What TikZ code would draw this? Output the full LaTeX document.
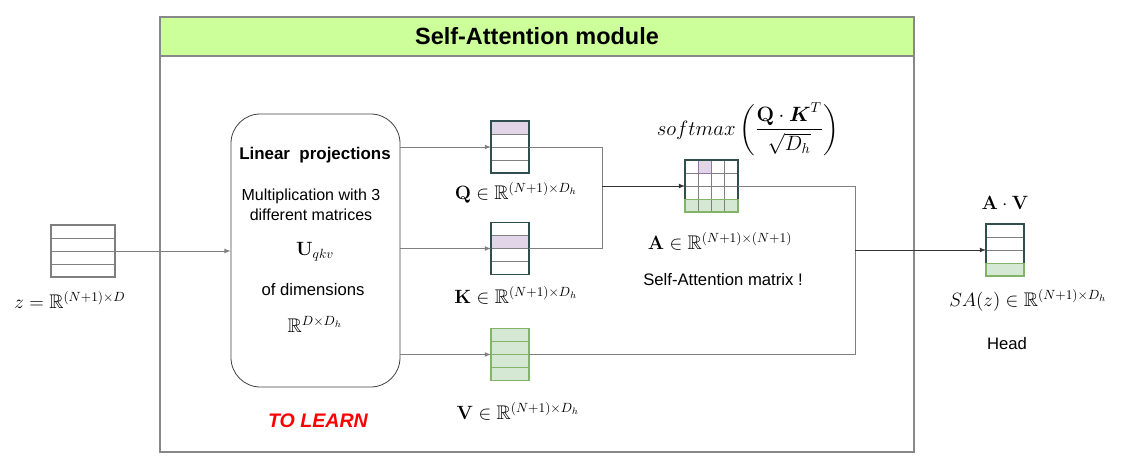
\documentclass[tikz,border=0pt]{standalone}
\usepackage{amssymb, amsmath}
\usepackage[no-math]{fontspec}
\setmainfont{Liberation Sans}
\usetikzlibrary{calc, arrows}
\definecolor{linegray}{HTML}{7F7F7F}
\definecolor{framegray}{HTML}{888888}
\definecolor{titlegreen}{HTML}{CCFF99}
\definecolor{matborder}{HTML}{2F4F4F}
\definecolor{qkpurple}{HTML}{E1D5E7}
\definecolor{qkline}{HTML}{9673A6}
\definecolor{vgreen}{HTML}{D5E8D4}
\definecolor{vline}{HTML}{82B366}

\begin{document}
\begin{tikzpicture}[x=0.75pt, y=-0.75pt]
      \tikzset{conn/.style={draw=linegray, line width=0.6pt},
        arrowconn/.style={draw=black!80, line width=0.6pt, -latex},
        mat/.style={inner sep=0pt,
          outer sep=0pt,
          minimum width=28.5pt,
          minimum height=39pt},
        gridline/.style={draw=linegray, line width=0.6pt},
        label text/.style={font=\fontsize{12.5}{15}\selectfont, align=center},
        bold text/.style={font=\bfseries\fontsize{12.7}{15}\selectfont},
        math label/.style={font=\fontsize{14.8}{17}\selectfont}
      }
      \useasboundingbox (0,0) rectangle (1121,470);
      % module frame and title band
      \draw [framegray, line width=0.8pt] (160,17) rectangle (914,452);
      \draw [framegray, fill=titlegreen, line width=0.8pt] (160,17) rectangle (914,56);
      \node [font=\bfseries\fontsize{17.6}{20}\selectfont] (title) at (537,36) {Self-Attention module};

      % matrices
      \node [mat, minimum width=48pt] (z) at (83,251) {};
      \node [mat] (q) at (510,147) {};
      \node [mat] (k) at (510,248.5) {};
      \node [mat] (v) at (510,354.5) {};
      \node [mat, minimum width=39.75pt] (a) at (711.5,186) {};
      \node [mat] (out) at (1005,250) {};

      \fill [qkpurple] (q.north west) rectangle ($(q.north east)!0.25!(q.south east)$);
      \fill [qkpurple] ($(k.north west)!0.25!(k.south west)$) rectangle ($(k.north east)!0.5!(k.south east)$);
      \fill [vgreen] (v.north west) rectangle (v.south east);
      \fill [qkpurple] ($(a.north west)!0.25!(a.north east)$) rectangle ($(a.north west)!0.5!(a.north east)+(0,13)$);
      \fill [vgreen] ($(a.south west)+(0,-13)$) rectangle (a.south east);
      \fill [vgreen] ($(out.south west)+(0,-13)$) rectangle (out.south east);

      \foreach \m in {z,q,k,a,out}
        \foreach \f in {0.25,0.5,0.75}
          \draw [gridline] ($(\m.north west)!\f!(\m.south west)$) -- ($(\m.north east)!\f!(\m.south east)$);
      \foreach \f in {0.25,0.5,0.75}
        \draw [gridline] ($(a.north west)!\f!(a.north east)$) -- ($(a.south west)!\f!(a.south east)$);
      \foreach \f in {0.25,0.5,0.75}
        \draw [vline, line width=0.8pt] ($(v.north west)!\f!(v.south west)$) -- ($(v.north east)!\f!(v.south east)$);
      \draw [qkline, line width=0.6pt] ($(a.north west)!0.25!(a.north east)$) rectangle ($(a.north west)!0.5!(a.north east)+(0,13)$);
      \draw [vline, line width=0.6pt] ($(a.south west)+(0,-13)$) rectangle (a.south east);
      \draw [vline, line width=0.6pt] ($(out.south west)+(0,-13)$) rectangle (out.south east);

      \draw [linegray, line width=0.8pt] (z.north west) rectangle (z.south east);
      \foreach \m in {q,k,a,out}
        \draw [matborder, line width=0.8pt] (\m.north west) rectangle (\m.south east);
      \draw [vline, line width=0.8pt] (v.north west) rectangle (v.south east);
      \draw [vline, line width=0.8pt] ($(a.south west)+(0,-13)$) -- (a.south west) -- (a.south east) -- +(0,-13);
      \draw [vline, line width=0.8pt] ($(out.south west)+(0,-13)$) -- (out.south west) -- (out.south east) -- +(0,-13);

      % linear projections
      \node [draw=black!75, line width=0.6pt, rounded corners=22pt, minimum width=126.75pt, minimum height=204.75pt] (lin) at (315.5,250.5) {};
      \node [bold text] (lintitle) at (315,155) {Linear\ \ projections};
      \node [label text, font=\fontsize{12}{15}\selectfont] (mult) at (311,205) {Multiplication with 3\\different matrices};
      \node [math label] (uqkv) at (315,252) {$\mathbf{U}_{qkv}$};
      \node [label text] (dims) at (313,290) {of dimensions};
      \node [math label] (dimsr) at (315,324) {$\mathbb{R}^{D\times D_h}$};
      \node [font=\bfseries\itshape\fontsize{14.7}{17}\selectfont, text=red] (learn) at (318,421) {TO LEARN};

      % labels
      \node [math label] (zlab) at (70,300) {$z = \mathbb{R}^{(N+1)\times D}$};
      \node [math label] (qlab) at (516,193) {$\mathbf{Q} \in \mathbb{R}^{(N+1)\times D_h}$};
      \node [math label] (klab) at (516,295) {$\mathbf{K} \in \mathbb{R}^{(N+1)\times D_h}$};
      \node [math label] (vlab) at (518,411) {$\mathbf{V} \in \mathbb{R}^{(N+1)\times D_h}$};
      \node [math label] (softmax) at (748,129) {\scalebox{1.08}{$softmax\left(\dfrac{\mathbf{Q}\cdot \boldsymbol{K}^T}{\sqrt{D_h}}\right)$}};
      \node [math label] (alab) at (720,241) {$\mathbf{A} \in \mathbb{R}^{(N+1)\times(N+1)}$};
      \node [label text] (atext) at (723,280) {Self-Attention matrix !};
      \node [math label] (avlab) at (1005,203) {$\mathbf{A}\cdot\mathbf{V}$};
      \node [math label] (salab) at (1028,300) {$SA(z) \in \mathbb{R}^{(N+1)\times D_h}$};
      \node [label text] (head) at (1007,344) {Head};

      % connectors
      \coordinate (joinqk) at (602,198);
      \coordinate (joinav) at (855,270);
      \draw [conn, -latex] (z.east) -- (lin.west |- z.east);
      \draw [conn, -latex] (lin.east |- q.west) -- (q.west);
      \draw [conn, -latex] (lin.east |- k.west) -- (k.west);
      \draw [conn, -latex] (lin.east |- v.west) -- (v.west);
      \draw [conn] (q.east) -| (joinqk |- k.east) -- (k.east);
      \draw [arrowconn] (joinqk |- a.west) -- (a.west);
      \draw [conn] (a.east) -| (joinav |- v.east) -- (v.east);
      \draw [arrowconn] (joinav |- out.west) -- (out.west);
    \end{tikzpicture}
\end{document}
